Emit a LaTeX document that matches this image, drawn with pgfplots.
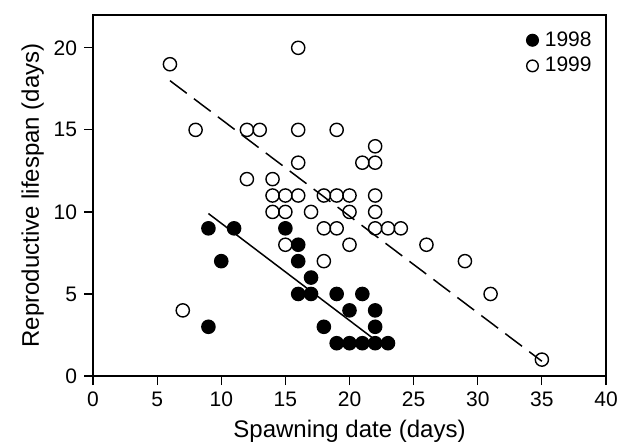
\documentclass[border=0pt]{standalone}
\usepackage{fontspec}
\setmainfont{Liberation Sans}
\usepackage{pgfplots}
\pgfplotsset{compat=1.18}

% 1998 = filled, 1999 = open
\begin{document}
\begin{tikzpicture}
\begin{axis}[
    width=256.5pt, height=180.5pt, scale only axis,
    xmin=0, xmax=40, ymin=0, ymax=22,
    xtick={0,5,...,40}, ytick={0,5,...,20},
    tick align=outside, xtick pos=bottom, ytick pos=left,
    major tick length=4.5pt,
    tick style={black, line width=0.6pt},
    axis line style={line width=0.6pt},
    /pgf/number format/assume math mode=true,
    tick label style={font=\fontsize{10.5}{12}\selectfont},
    label style={font=\fontsize{12}{14}\selectfont},
    xlabel={Spawning date (days)},
    ylabel={Reproductive lifespan (days)},
    xlabel style={yshift=0.5pt},
    ylabel style={yshift=-2pt},
    legend style={draw=none, fill=none, at={(1,1)}, anchor=north east,
        xshift=-6pt, yshift=-7pt,
        font=\fontsize{10.5}{12}\selectfont, row sep=2pt, inner sep=0pt,
        nodes={inner sep=1pt}},
    legend cell align=left,
    legend image code/.code={\draw[#1, mark size=2.9pt] plot coordinates {(0pt,0pt)};
        \path (5pt,0pt);},
]
\addplot[only marks, mark=*, mark size=3.3pt, mark options={fill=black, draw=black, line width=0.7pt}]
coordinates {
 (9,9)(11,9)(15,9)(16,8)(10,7)(16,7)(17,6)(16,5)(17,5)(19,5)(21,5)
 (20,4)(22,4)(9,3)(18,3)(22,3)(19,2)(20,2)(21,2)(22,2)(23,2)
};
\addlegendentry{1998}
\addplot[only marks, mark=o, mark size=3.3pt, mark options={draw=black, line width=0.7pt}]
coordinates {
 (6,19)(16,20)(8,15)(12,15)(13,15)(16,15)(19,15)(22,14)(16,13)(21,13)(22,13)
 (12,12)(14,12)(14,11)(15,11)(16,11)(18,11)(19,11)(20,11)(22,11)
 (14,10)(15,10)(17,10)(20,10)(22,10)(18,9)(19,9)(22,9)(23,9)(24,9)
 (15,8)(20,8)(26,8)(18,7)(29,7)(31,5)(7,4)(35,1)
};
\addlegendentry{1999}
\addplot[black, line width=0.75pt, forget plot] coordinates {(9,9.9)(22,2.2)};
\addplot[black, line width=0.75pt, dash pattern=on 10.5pt off 4.5pt, forget plot]
 coordinates {(6,18.0)(35,0.9)};
\end{axis}
\pgfresetboundingbox
\path[use as bounding box]
  ([shift={(-46.5pt,-32.5pt)}]current axis.south west) rectangle
  ([shift={(10pt,7.5pt)}]current axis.north east);
\end{tikzpicture}
\end{document}
